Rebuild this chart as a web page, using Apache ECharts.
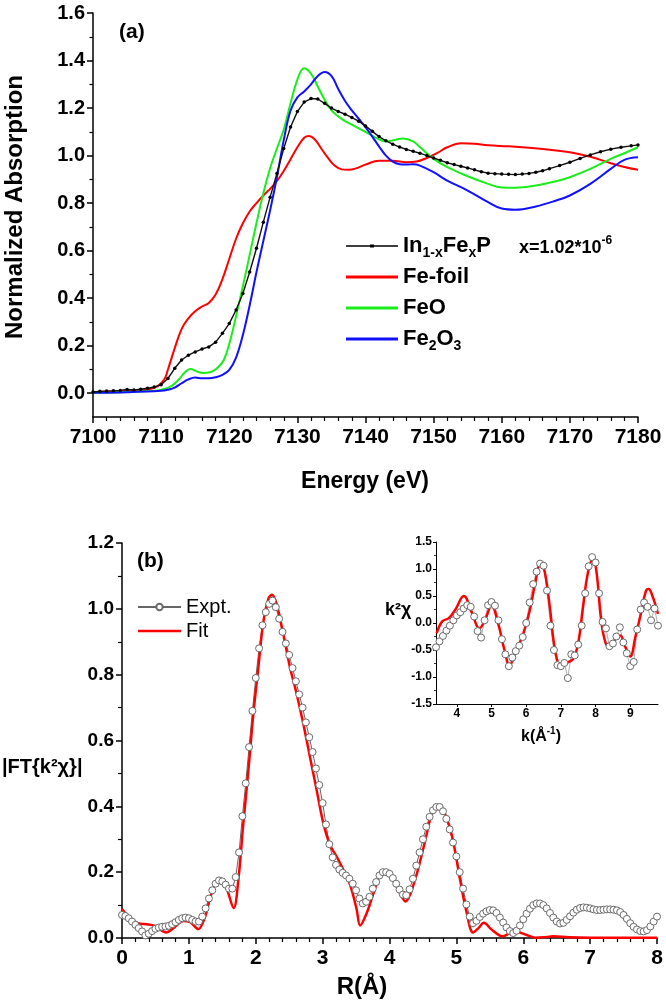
<!DOCTYPE html>
<html>
<head>
<meta charset="utf-8">
<script src="https://cdn.jsdelivr.net/npm/echarts@6/dist/echarts.min.js"></script>
<style>
html,body{margin:0;padding:0;background:#fff;}
#chart{width:666px;height:1004px;}
</style>
</head>
<body>
<div id="chart"></div>
<script>
// ---------- panel (a): XANES ----------
const inE = [7100,7101,7102,7103,7104,7105,7106,7107,7108,7109,7110,7111,7112,7113,7114,7115,7116,7117,7118,7119,
  7120,7121,7122,7123,7124,7125,7126,7127,7128,7129,7130,7131,7132,7133,7134,7135,7136,7137,7138,7139,
  7140,7141,7142,7143,7144,7145,7146,7147,7148,7149,7150,7151,7152,7153,7154,7155,7156,7157,7158,7159,
  7160,7161,7162,7163,7164,7165,7166,7167,7168.5,7170,7171.5,7173,7174.5,7176,7177.5,7179,7180];
const inMu = [0.005,0.008,0.009,0.010,0.012,0.016,0.014,0.017,0.021,0.026,0.036,0.062,0.105,0.140,0.160,0.174,0.186,0.195,0.215,0.252,
  0.293,0.350,0.420,0.510,0.610,0.720,0.825,0.925,1.030,1.120,1.185,1.225,1.240,1.238,1.220,1.200,1.186,1.174,1.160,1.145,
  1.125,1.102,1.080,1.062,1.048,1.036,1.026,1.018,1.010,1.000,0.990,0.980,0.970,0.962,0.955,0.948,0.940,0.932,0.926,0.924,
  0.922,0.921,0.920,0.922,0.925,0.930,0.936,0.945,0.958,0.972,0.988,1.003,1.016,1.027,1.035,1.041,1.045];

const foilE = [7100,7105,7108,7109.5,7110.5,7111,7112,7113,7114,7115,7116,7117,7118,7119,7120,7121,7122,7123,7124,7125,
  7126,7127,7128,7129,7130,7131,7131.7,7132.5,7133.5,7134.5,7135.5,7136.5,7137.5,7138.5,7140,7142,7144,7146,7147.5,7149,
  7150.5,7152,7154,7156,7158,7161,7164,7167,7170,7173,7176,7178,7180];
const foilMu = [0.005,0.010,0.015,0.030,0.060,0.100,0.190,0.270,0.315,0.345,0.365,0.380,0.415,0.480,0.565,0.650,0.715,0.765,0.800,0.832,
  0.860,0.893,0.935,0.985,1.035,1.075,1.082,1.070,1.030,0.990,0.957,0.942,0.940,0.945,0.962,0.978,0.978,0.972,0.975,0.990,
  1.010,1.035,1.052,1.050,1.043,1.039,1.033,1.025,1.014,0.995,0.968,0.952,0.940];

const feoE = [7100,7105,7109,7110.5,7111.5,7112.5,7113.5,7114.3,7115.2,7116.2,7117.2,7118.2,7119.2,7120.1,7121.1,7122.1,7123.1,7124,7125,7126,
  7127,7128,7129,7130,7131,7132,7133,7134,7135,7136,7137,7138,7140,7142,7143,7144,7145.5,7147,7148,7150,
  7152,7155,7158,7160,7162,7165,7168,7170,7173,7176,7178,7180];
const feoMu = [0.002,0.005,0.010,0.018,0.030,0.055,0.088,0.102,0.092,0.085,0.088,0.105,0.140,0.218,0.337,0.463,0.596,0.716,0.842,0.947,
  1.030,1.110,1.220,1.320,1.368,1.345,1.290,1.235,1.190,1.165,1.145,1.130,1.100,1.068,1.060,1.064,1.072,1.060,1.035,0.986,
  0.951,0.913,0.881,0.866,0.865,0.874,0.892,0.909,0.944,0.986,1.010,1.035];

const fe2o3E = [7100,7105,7110,7111,7112,7113,7114,7115,7116,7117,7118,7119,7120,7121,7122,7123,7124,7125,7126,7127,
  7128,7129,7130,7131,7132,7133,7134,7135,7136,7137,7138,7139,7140,7141,7142,7143,7144,7145,7146,7147,
  7148,7150,7152,7155,7158,7160,7162,7165,7168,7170,7173,7176,7178,7180];
const fe2o3Mu = [0.002,0.004,0.010,0.015,0.024,0.042,0.058,0.066,0.063,0.063,0.067,0.077,0.098,0.150,0.245,0.370,0.510,0.640,0.770,0.910,
  1.065,1.190,1.245,1.270,1.300,1.335,1.352,1.335,1.280,1.230,1.190,1.155,1.120,1.080,1.038,1.000,0.975,0.964,0.962,0.964,
  0.958,0.930,0.895,0.853,0.804,0.777,0.772,0.786,0.811,0.832,0.881,0.944,0.982,0.993];

const yTicksA = [0,0.2,0.4,0.6,0.8,1.0,1.2,1.4,1.6];
const yMinorA = [0.1,0.3,0.5,0.7,0.9,1.1,1.3,1.5];

// ---------- panel (b): FT magnitude ----------
const rExpt = [0.00,0.05,0.10,0.15,0.20,0.25,0.30,0.35,0.40,0.45,0.50,0.55,0.60,0.65,0.70,0.75,0.80,0.85,0.90,0.95,
  1.00,1.05,1.10,1.15,1.20,1.25,1.30,1.35,1.40,1.45,1.50,1.55,1.60,1.65,1.70,1.75,1.80,1.85,1.90,1.95,
  2.00,2.05,2.10,2.15,2.20,2.25,2.30,2.35,2.40,2.45,2.50,2.55,2.60,2.65,2.70,2.75,2.80,2.85,2.90,2.95,
  3.00,3.05,3.10,3.15,3.20,3.25,3.30,3.35,3.40,3.45,3.50,3.55,3.60,3.65,3.70,3.75,3.80,3.85,3.90,3.95,
  4.00,4.05,4.10,4.15,4.20,4.25,4.30,4.35,4.40,4.45,4.50,4.55,4.60,4.65,4.70,4.75,4.80,4.85,4.90,4.95,
  5.00,5.05,5.10,5.15,5.20,5.25,5.30,5.35,5.40,5.45,5.50,5.55,5.60,5.65,5.70,5.75,5.80,5.85,5.90,5.95,
  6.00,6.05,6.10,6.15,6.20,6.25,6.30,6.35,6.40,6.45,6.50,6.55,6.60,6.65,6.70,6.75,6.80,6.85,6.90,6.95,
  7.00,7.05,7.10,7.15,7.20,7.25,7.30,7.35,7.40,7.45,7.50,7.55,7.60,7.65,7.70,7.75,7.80,7.85,7.90,7.95,8.00];
const ftExpt = [0.070,0.067,0.060,0.050,0.040,0.030,0.020,0.008,0.013,0.021,0.028,0.032,0.034,0.035,0.037,0.042,0.048,0.055,0.060,0.062,
  0.060,0.055,0.050,0.050,0.065,0.090,0.120,0.145,0.165,0.175,0.172,0.162,0.150,0.150,0.185,0.260,0.370,0.470,0.580,0.690,
  0.790,0.880,0.950,0.990,1.015,1.025,1.005,0.970,0.930,0.895,0.860,0.820,0.780,0.740,0.700,0.655,0.610,0.565,0.515,0.465,
  0.410,0.345,0.285,0.245,0.222,0.208,0.198,0.190,0.180,0.165,0.145,0.120,0.105,0.110,0.125,0.150,0.170,0.190,0.200,0.200,
  0.195,0.182,0.165,0.147,0.132,0.130,0.148,0.180,0.220,0.260,0.300,0.338,0.368,0.388,0.398,0.398,0.385,0.362,0.330,0.290,
  0.248,0.200,0.150,0.102,0.065,0.045,0.052,0.064,0.074,0.081,0.085,0.084,0.076,0.062,0.047,0.032,0.021,0.015,0.022,0.038,
  0.057,0.074,0.089,0.100,0.105,0.105,0.100,0.090,0.076,0.062,0.050,0.044,0.046,0.055,0.066,0.077,0.086,0.091,0.093,0.092,
  0.090,0.087,0.085,0.085,0.086,0.087,0.087,0.086,0.084,0.079,0.070,0.058,0.045,0.034,0.026,0.021,0.020,0.024,0.035,0.050,0.065];
const rFit = [0,0.12,0.24,0.37,0.49,0.59,0.66,0.77,0.92,1.02,1.14,1.24,1.34,1.46,1.56,1.67,1.74,1.81,1.89,1.96,
  2.04,2.11,2.19,2.24,2.31,2.41,2.51,2.61,2.71,2.81,2.91,3.01,3.11,3.21,3.31,3.41,3.51,3.56,3.66,3.76,
  3.86,3.94,4.04,4.13,4.24,4.36,4.52,4.64,4.71,4.80,4.93,5.06,5.15,5.25,5.33,5.41,5.53,5.69,5.80,5.88,
  6.04,6.18,6.30,6.45,6.68,7.00,8.00];
const ftFit = [0.088,0.060,0.045,0.042,0.037,0.023,0.017,0.030,0.052,0.048,0.027,0.063,0.136,0.179,0.152,0.091,0.177,0.338,0.510,0.672,
  0.824,0.955,1.031,1.043,1.016,0.925,0.824,0.743,0.652,0.551,0.450,0.349,0.283,0.247,0.207,0.162,0.086,0.038,0.076,0.136,
  0.192,0.203,0.180,0.147,0.111,0.162,0.284,0.385,0.403,0.390,0.314,0.172,0.081,0.017,0.030,0.046,0.025,0.005,0.015,0.020,
  0.010,0.001,0.002,0.005,0.002,0.001,0.001];

// ---------- inset: k^2 chi(k) ----------
const kExpt = [3.4,3.5,3.6,3.7,3.8,3.9,4.0,4.1,4.2,4.3,4.4,4.5,4.6,4.7,4.8,4.9,5.0,5.1,5.2,5.3,
  5.4,5.5,5.6,5.7,5.8,5.9,6.0,6.1,6.2,6.3,6.4,6.5,6.6,6.7,6.8,6.9,7.0,7.1,7.2,7.3,
  7.4,7.5,7.6,7.7,7.8,7.9,8.0,8.1,8.2,8.3,8.4,8.5,8.6,8.7,8.8,8.9,9.0,9.1,9.2,9.3,
  9.4,9.5,9.6,9.7,9.8];
const chiExpt = [-0.45,-0.34,-0.24,-0.14,-0.05,0.05,0.14,0.20,0.27,0.33,0.30,0.12,-0.15,-0.27,0.05,0.33,0.39,0.32,0.05,-0.30,
  -0.58,-0.80,-0.64,-0.52,-0.42,-0.26,0.00,0.38,0.72,0.95,1.10,1.06,0.60,-0.05,-0.50,-0.78,-0.80,-0.74,-1.02,-0.58,
  -0.60,-0.40,-0.05,0.55,1.05,1.22,1.12,0.55,0.02,-0.10,-0.43,-0.38,-0.25,-0.08,-0.36,-0.56,-0.80,-0.72,-0.12,0.25,
  0.38,0.30,0.05,0.27,-0.05];
const kFit = [3.42,3.58,3.77,3.96,4.20,4.44,4.65,4.82,5.00,5.20,5.37,5.52,5.73,5.92,6.11,6.26,6.42,6.54,6.69,6.83,
  7.00,7.16,7.35,7.50,7.64,7.78,7.93,8.03,8.16,8.29,8.42,8.59,8.71,8.85,9.00,9.15,9.31,9.45,9.53,9.64,9.80];
const chiFit = [-0.19,0.03,0.09,0.25,0.50,0.18,-0.10,0.07,0.32,-0.03,-0.49,-0.78,-0.49,-0.19,0.25,0.74,1.12,0.93,0.25,-0.49,
  -0.80,-0.74,-0.67,-0.37,0.31,0.93,1.20,0.93,0.06,-0.37,-0.43,-0.28,-0.23,-0.43,-0.62,-0.25,0.18,0.59,0.63,0.50,0.17];
const kTicks = [4,5,6,7,8,9];

const pairs = (xs, ys) => xs.map((x, i) => [x, ys[i]]);

const FONT = '"Liberation Sans", Arial, Helvetica, sans-serif';
const BLACK = '#000';

function axisCommon(extra) {
  return Object.assign({
    type: 'value',
    axisLine: { show: true, onZero: false, lineStyle: { color: BLACK, width: 1.5 } },
    axisTick: { show: true, length: 6, lineStyle: { color: BLACK, width: 1.5 } },
    splitLine: { show: false },
    minorSplitLine: { show: false },
    axisLabel: { color: BLACK, fontWeight: 'bold', fontFamily: FONT, fontSize: 20, margin: 8 }
  }, extra);
}

const chart = echarts.init(document.getElementById('chart'), null, { renderer: 'canvas' });

const legendNames = {
  'In1-xFexP': '{m|In}{s|1-x}{m|Fe}{s|x}{m|P}',
  'Fe-foil': '{m|Fe-foil}',
  'FeO': '{m|FeO}',
  'Fe2O3': '{m|Fe}{s|2}{m|O}{s|3}'
};
const ICON_DOTLINE = 'path://M0,0.8 L52,0.8 L52,2.2 L0,2.2 Z M24,0 L28,0 L28,3 L24,3 Z';
const ICON_FIT = 'path://M0,0 L0.01,0 L0,0 Z M0,2.75 L43,2.75 L43,5.25 L0,5.25 Z M0,8 L0.01,8 L0,8 Z';

const option = {
  animation: false,
  backgroundColor: '#fff',
  textStyle: { fontFamily: FONT },
  grid: [
    { left: 93, right: 28, top: 13, bottom: 587, containLabel: false },
    { left: 122, right: 9, top: 543, bottom: 66, containLabel: false },
    { left: 436, right: 8, top: 542, bottom: 300, containLabel: false }
  ],
  xAxis: [
    axisCommon({
      gridIndex: 0, min: 7100, max: 7180, interval: 10,
      minorTick: { show: true, splitNumber: 5, length: 4, lineStyle: { color: BLACK, width: 1.2 } },
      axisLabel: { color: BLACK, fontWeight: 'bold', fontFamily: FONT, fontSize: 21, margin: 10, formatter: v => String(v) }
    }),
    axisCommon({
      gridIndex: 1, min: 0, max: 8, interval: 1,
      minorTick: { show: true, splitNumber: 5, length: 4, lineStyle: { color: BLACK, width: 1.2 } },
      axisLabel: { color: BLACK, fontWeight: 'bold', fontFamily: FONT, fontSize: 21, margin: 10, formatter: v => String(v) }
    }),
    axisCommon({
      gridIndex: 2, min: 3.4, max: 9.8,
      axisLine: { show: true, onZero: false, lineStyle: { color: BLACK, width: 1 } },
      axisTick: { show: true, length: 3, customValues: kTicks, lineStyle: { color: BLACK, width: 1 } },
      axisLabel: { color: BLACK, fontWeight: 'bold', fontFamily: FONT, fontSize: 12, margin: 4, customValues: kTicks, formatter: v => String(v) }
    })
  ],
  yAxis: [
    axisCommon({
      gridIndex: 0, min: -0.1, max: 1.6,
      axisTick: { show: true, length: 6, customValues: yTicksA, lineStyle: { color: BLACK, width: 1.5 } },
      axisLabel: { color: BLACK, fontWeight: 'bold', fontFamily: FONT, fontSize: 20, margin: 8,
        customValues: yTicksA, formatter: v => v.toFixed(1) }
    }),
    axisCommon({
      gridIndex: 0, min: -0.1, max: 1.6, position: 'left',
      axisLine: { show: false, onZero: false },
      axisTick: { show: true, length: 3.5, customValues: yMinorA, lineStyle: { color: BLACK, width: 1.2 } },
      axisLabel: { show: false }
    }),
    axisCommon({
      gridIndex: 1, min: 0, max: 1.2, interval: 0.2,
      minorTick: { show: true, splitNumber: 2, length: 4, lineStyle: { color: BLACK, width: 1.2 } },
      axisLabel: { color: BLACK, fontWeight: 'bold', fontFamily: FONT, fontSize: 19, margin: 8, formatter: v => v.toFixed(1) }
    }),
    axisCommon({
      gridIndex: 2, min: -1.5, max: 1.5, interval: 0.5,
      axisLine: { show: true, onZero: false, lineStyle: { color: BLACK, width: 1 } },
      axisTick: { show: true, length: 3, lineStyle: { color: BLACK, width: 1 } },
      minorTick: { show: true, splitNumber: 2, length: 2, lineStyle: { color: BLACK, width: 0.8 } },
      axisLabel: { color: BLACK, fontWeight: 'bold', fontFamily: FONT, fontSize: 12, margin: 4, formatter: v => v.toFixed(1) }
    })
  ],
  legend: [
    {
      data: [
        { name: 'In1-xFexP', icon: ICON_DOTLINE },
        { name: 'Fe-foil', icon: 'rect' },
        { name: 'FeO', icon: 'rect' },
        { name: 'Fe2O3', icon: 'rect' }
      ],
      orient: 'vertical', left: 346, top: 232, padding: 0,
      itemWidth: 52, itemHeight: 3, itemGap: 3,
      formatter: n => legendNames[n],
      textStyle: {
        color: BLACK, fontFamily: FONT, fontSize: 22, fontWeight: 'bold', lineHeight: 28,
        rich: {
          m: { fontSize: 22, fontWeight: 'bold', fontFamily: FONT, color: BLACK, lineHeight: 28 },
          s: { fontSize: 14, fontWeight: 'bold', fontFamily: FONT, color: BLACK, lineHeight: 10, verticalAlign: 'bottom' }
        }
      }
    },
    {
      data: [
        { name: 'Expt.' },
        { name: 'Fit', icon: ICON_FIT }
      ],
      orient: 'vertical', left: 137, top: 595, padding: 0,
      itemWidth: 43, itemHeight: 8, itemGap: 0,
      textStyle: { color: BLACK, fontFamily: FONT, fontSize: 20, lineHeight: 24 }
    }
  ],
  series: [
    {
      name: 'In1-xFexP', type: 'line', xAxisIndex: 0, yAxisIndex: 0,
      data: pairs(inE, inMu), symbol: 'circle', symbolSize: 3.5, showSymbol: true,
      lineStyle: { color: '#111', width: 1.4 }, itemStyle: { color: BLACK }, z: 5
    },
    {
      name: 'Fe-foil', type: 'line', xAxisIndex: 0, yAxisIndex: 0,
      data: pairs(foilE, foilMu), symbol: 'none', smooth: 0.4,
      lineStyle: { color: '#ff0000', width: 2 }, itemStyle: { color: '#ff0000' }
    },
    {
      name: 'FeO', type: 'line', xAxisIndex: 0, yAxisIndex: 0,
      data: pairs(feoE, feoMu), symbol: 'none', smooth: 0.4,
      lineStyle: { color: '#1aee1a', width: 2 }, itemStyle: { color: '#1aee1a' }
    },
    {
      name: 'Fe2O3', type: 'line', xAxisIndex: 0, yAxisIndex: 0,
      data: pairs(fe2o3E, fe2o3Mu), symbol: 'none', smooth: 0.4,
      lineStyle: { color: '#1010ff', width: 2 }, itemStyle: { color: '#1010ff' }
    },
    {
      name: 'Expt.', type: 'line', xAxisIndex: 1, yAxisIndex: 2,
      data: pairs(rExpt, ftExpt), symbol: 'circle', symbolSize: 7, showSymbol: true,
      lineStyle: { color: '#666', width: 1 },
      itemStyle: { color: '#fff', borderColor: '#6a6a6a', borderWidth: 1 }
    },
    {
      name: 'Fit', type: 'line', xAxisIndex: 1, yAxisIndex: 2,
      data: pairs(rFit, ftFit), symbol: 'none', smooth: 0.35,
      lineStyle: { color: '#ff0000', width: 2.5 }, itemStyle: { color: '#ff0000' }
    },
    {
      name: 'k-Expt', type: 'line', xAxisIndex: 2, yAxisIndex: 3,
      data: pairs(kExpt, chiExpt), symbol: 'circle', symbolSize: 7, showSymbol: true,
      lineStyle: { color: '#999', width: 0.8 },
      itemStyle: { color: '#fff', borderColor: '#6a6a6a', borderWidth: 1 }
    },
    {
      name: 'k-Fit', type: 'line', xAxisIndex: 2, yAxisIndex: 3,
      data: pairs(kFit, chiFit), symbol: 'none', smooth: 0.4,
      lineStyle: { color: '#ff0000', width: 2.5 }, itemStyle: { color: '#ff0000' }
    }
  ],
  graphic: [
    { type: 'text', x: 119, y: 32, style: { text: '(a)', font: 'bold 21px ' + FONT, fill: BLACK, align: 'left', verticalAlign: 'middle' } },
    { type: 'text', x: 137, y: 561, style: { text: '(b)', font: 'bold 21px ' + FONT, fill: BLACK, align: 'left', verticalAlign: 'middle' } },
    { type: 'text', x: 15, y: 207, rotation: Math.PI / 2,
      style: { text: 'Normalized Absorption', font: 'bold 24px ' + FONT, fill: BLACK, align: 'center', verticalAlign: 'middle' } },
    { type: 'text', x: 365, y: 482, style: { text: 'Energy (eV)', font: 'bold 23px ' + FONT, fill: BLACK, align: 'center', verticalAlign: 'middle' } },
    { type: 'text', x: 519, y: 248,
      style: { text: '{b|x=1.02*10}{p|-6}', align: 'left', verticalAlign: 'middle',
        rich: {
          b: { font: 'bold 18px ' + FONT, fill: BLACK, lineHeight: 26 },
          p: { font: 'bold 12px ' + FONT, fill: BLACK, lineHeight: 12, verticalAlign: 'top' }
        } } },
    { type: 'text', x: 2, y: 767, style: { text: '|FT{k²χ}|', font: 'bold 20px ' + FONT, fill: BLACK, align: 'left', verticalAlign: 'middle' } },
    { type: 'text', x: 362, y: 987, style: { text: 'R(Å)', font: 'bold 24px ' + FONT, fill: BLACK, align: 'center', verticalAlign: 'middle' } },
    { type: 'text', x: 385, y: 610, style: { text: 'k²χ', font: 'bold 18px ' + FONT, fill: BLACK, align: 'left', verticalAlign: 'middle' } },
    { type: 'text', x: 541, y: 737,
      style: { text: '{b|k(Å}{p|-1}{b|)}', align: 'center', verticalAlign: 'middle',
        rich: {
          b: { font: 'bold 16px ' + FONT, fill: BLACK, lineHeight: 22 },
          p: { font: 'bold 10px ' + FONT, fill: BLACK, lineHeight: 10, verticalAlign: 'top' }
        } } }
  ]
};

chart.setOption(option);
</script>
</body>
</html>
